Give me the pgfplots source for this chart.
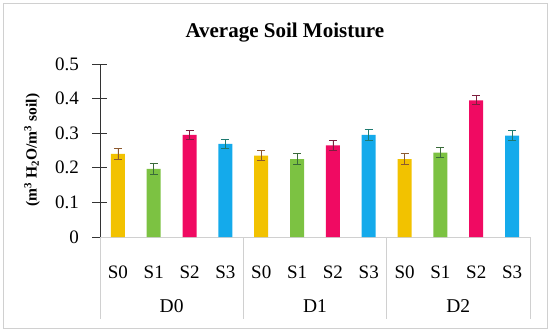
\documentclass[border=0pt]{standalone}
\usepackage{fontspec}
\setmainfont{Liberation Serif}
\usepackage{pgfplots}
\pgfplotsset{compat=1.18}
\definecolor{c0}{HTML}{F2C200}
\definecolor{c0e}{HTML}{8C5A30}
\definecolor{c1}{HTML}{7CC242}
\definecolor{c1e}{HTML}{3A6B3A}
\definecolor{c2}{HTML}{F00A62}
\definecolor{c2e}{HTML}{7E1E3E}
\definecolor{c3}{HTML}{14AAEB}
\definecolor{c3e}{HTML}{1E7A70}
\definecolor{sepgray}{HTML}{D0D0D0}
\begin{document}
\begin{tikzpicture}
\path[use as bounding box] (-100pt,-93pt) rectangle (450pt,237pt);
\draw[sepgray, line width=0.8pt] (-97pt,-91pt) rectangle (447pt,234pt);
\begin{axis}[
  at={(0,0)}, anchor=south west,
  scale only axis, width=430pt, height=173pt,
  xmin=-0.5, xmax=11.5, ymin=0, ymax=0.5,
  axis x line=bottom, axis y line=left,
  axis line style={-},
  x axis line style={draw=none},
  y axis line style={draw=black!80, line width=0.7pt},
  xtick={0,...,11},
  xticklabels={S0,S1,S2,S3,S0,S1,S2,S3,S0,S1,S2,S3},
  x tick style={draw=none},
  xticklabel style={anchor=base, yshift=-34pt, inner sep=0pt, font=\fontsize{19}{22}\selectfont},
  ytick={0,0.1,0.2,0.3,0.4,0.5},
  ytick align=center,
  y tick style={draw=black!80, line width=0.7pt},
  major tick length=15pt,
  yticklabel style={anchor=east, inner sep=0pt, xshift=-13.5pt, font=\fontsize{19}{22}\selectfont},
  /pgf/number format/assume math mode=true,
  title={Average Soil Moisture},
  title style={at={(0.430,1.116)}, anchor=base, font=\bfseries\fontsize{21}{24}\selectfont},
  ylabel={(m\textsuperscript{3} H\textsubscript{2}O/m\textsuperscript{3} soil)},
  ylabel style={at={(-0.1581,0.5029)}, anchor=center, font=\bfseries\fontsize{15.5}{18}\selectfont},
  clip=false,
]
% category axis: base line and group separators
\draw[sepgray, line width=0.8pt] (axis cs:-0.5,0) -- (axis cs:11.5,0);
\draw[sepgray, line width=0.8pt] (axis cs:-0.5,0) -- ([yshift=-82pt]axis cs:-0.5,0);
\draw[sepgray, line width=0.8pt] (axis cs:3.5,0) -- ([yshift=-82pt]axis cs:3.5,0);
\draw[sepgray, line width=0.8pt] (axis cs:7.5,0) -- ([yshift=-82pt]axis cs:7.5,0);
\draw[sepgray, line width=0.8pt] (axis cs:11.5,0) -- ([yshift=-82pt]axis cs:11.5,0);
\addplot[ybar, bar width=14pt, bar shift=0pt, fill=c0, draw=none,
  error bars/.cd, y dir=both, y explicit,
  error bar style={c0e, line width=0.8pt},
  error mark options={rotate=90, c0e, mark size=4pt, line width=0.8pt}]
  coordinates {(0,0.240) +- (0,0.016) (4,0.235) +- (0,0.014) (8,0.225) +- (0,0.016)};
\addplot[ybar, bar width=14pt, bar shift=0pt, fill=c1, draw=none,
  error bars/.cd, y dir=both, y explicit,
  error bar style={c1e, line width=0.8pt},
  error mark options={rotate=90, c1e, mark size=4pt, line width=0.8pt}]
  coordinates {(1,0.197) +- (0,0.015) (5,0.225) +- (0,0.016) (9,0.244) +- (0,0.015)};
\addplot[ybar, bar width=14pt, bar shift=0pt, fill=c2, draw=none,
  error bars/.cd, y dir=both, y explicit,
  error bar style={c2e, line width=0.8pt},
  error mark options={rotate=90, c2e, mark size=4pt, line width=0.8pt}]
  coordinates {(2,0.295) +- (0,0.014) (6,0.265) +- (0,0.015) (10,0.395) +- (0,0.013)};
\addplot[ybar, bar width=14pt, bar shift=0pt, fill=c3, draw=none,
  error bars/.cd, y dir=both, y explicit,
  error bar style={c3e, line width=0.8pt},
  error mark options={rotate=90, c3e, mark size=4pt, line width=0.8pt}]
  coordinates {(3,0.269) +- (0,0.014) (7,0.295) +- (0,0.015) (11,0.293) +- (0,0.015)};
\node[anchor=base, font=\fontsize{19.5}{22}\selectfont] at (axis cs:1.5,0) [yshift=-75pt] {D0};
\node[anchor=base, font=\fontsize{19.5}{22}\selectfont] at (axis cs:5.5,0) [yshift=-75pt] {D1};
\node[anchor=base, font=\fontsize{19.5}{22}\selectfont] at (axis cs:9.5,0) [yshift=-75pt] {D2};
\end{axis}
\end{tikzpicture}
\end{document}
